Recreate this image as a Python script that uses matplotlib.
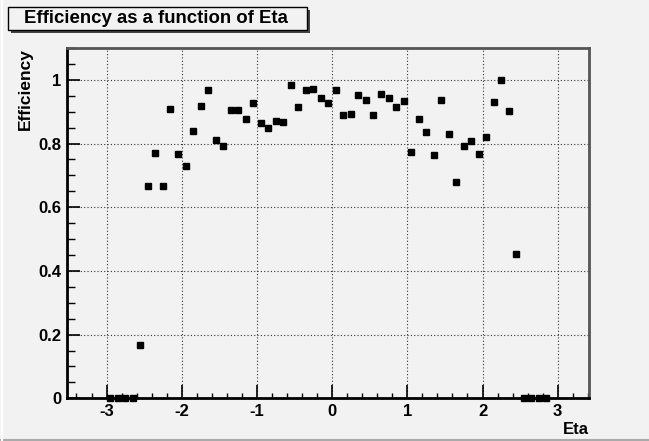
import numpy as np
import matplotlib
matplotlib.use('Agg')
from matplotlib import pyplot as plt
from matplotlib.patches import Rectangle
from matplotlib.lines import Line2D
from matplotlib.ticker import MultipleLocator

# bin centres (width 0.1) and efficiency values
eta = np.round(np.arange(-2.95, 2.86, 0.1), 2)
eff = [0.0, 0.0, 0.0, 0.0, 0.167,
       0.667, 0.770, 0.667, 0.910, 0.766, 0.731, 0.840, 0.917, 0.967, 0.812,
       0.792, 0.904, 0.906, 0.878, 0.927, 0.864, 0.850, 0.870, 0.868, 0.984,
       0.916, 0.967, 0.970, 0.943, 0.926, 0.969, 0.890, 0.894, 0.953, 0.938,
       0.891, 0.955, 0.943, 0.914, 0.934, 0.773, 0.877, 0.835, 0.764, 0.937,
       0.829, 0.679, 0.793, 0.808, 0.766, 0.819, 0.930, 1.001, 0.902, 0.454,
       0.0, 0.0, 0.0, 0.0]

titulo = 'Efficiency as a function of Eta'
bg = '#f2f2f2'

plt.rcParams['font.family'] = ['Liberation Sans', 'DejaVu Sans']
plt.rcParams['font.weight'] = 'bold'
plt.rcParams['axes.unicode_minus'] = False

fig = plt.figure(figsize=(6.49, 4.41), dpi=100, facecolor=bg)
W, H = 649.0, 441.0
ax = fig.add_axes([66.7 / W, 1 - 398.3 / H, (589.3 - 66.7) / W, (398.3 - 47.7) / H])
ax.set_facecolor(bg)

ax.plot(eta, eff, 's', color='black', markersize=5, clip_on=False, zorder=5)

ax.set_xlim(-3.53, 3.42)
ax.set_ylim(0, 1.101)
ax.xaxis.set_major_locator(MultipleLocator(1))
ax.xaxis.set_minor_locator(MultipleLocator(0.2))
ax.yaxis.set_major_locator(MultipleLocator(0.2))
ax.yaxis.set_minor_locator(MultipleLocator(0.05))
ax.tick_params(which='both', direction='in', top=False, right=False, color='black')
ax.tick_params(which='major', length=9.4, width=1.2, labelsize=12, pad=4)
ax.tick_params(axis='y', which='minor', length=5.8, width=1.0)
ax.tick_params(axis='x', which='minor', length=3.8, width=1.0)
ax.set_yticks([0, 0.2, 0.4, 0.6, 0.8, 1.0])
ax.set_yticklabels(['0', '0.2', '0.4', '0.6', '0.8', '1'])
ax.grid(True, which='major', linestyle=(0, (1, 2)), color='#333333', linewidth=0.8)

for s in ['left', 'bottom']:
    ax.spines[s].set_linewidth(2)
    ax.spines[s].set_color('black')
for s in ['top', 'right']:
    ax.spines[s].set_linewidth(2)
    ax.spines[s].set_color('#555555')

ax.set_ylabel('Efficiency', fontsize=12.5, fontweight='bold', loc='top', labelpad=3.5)
ax.set_xlabel('Eta', fontsize=12, fontweight='bold', loc='right', labelpad=2)

# title box with shadow like ROOT
fig.patches.append(Rectangle((11 / W, 1 - 33 / H), 299 / W, 23 / H, transform=fig.transFigure,
                             facecolor='#444444', edgecolor='none', zorder=1))
fig.patches.append(Rectangle((8 / W, 1 - 30 / H), 299 / W, 23 / H, transform=fig.transFigure,
                             facecolor=bg, edgecolor='black', linewidth=1, zorder=2))
fig.text(156 / W, 1 - 18.5 / H, titulo, ha='center', va='center', fontsize=13.4,
         fontweight='bold', zorder=3)

# canvas bevel
fig.lines.append(Line2D([0, 1], [1 - 439.5 / H, 1 - 439.5 / H], transform=fig.transFigure,
                        color='#aaaaaa', linewidth=1.5))
fig.lines.append(Line2D([1.5 / W, 1.5 / W], [0, 1], transform=fig.transFigure,
                        color='white', linewidth=1.5))

fig.savefig('out.png', dpi=100, facecolor=bg)
